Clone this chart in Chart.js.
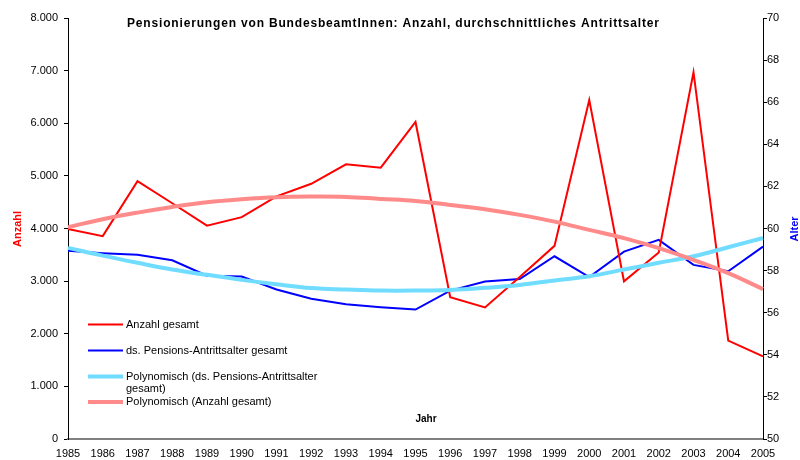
<!DOCTYPE html>
<html>
<head>
<meta charset="utf-8">
<script src="https://cdn.jsdelivr.net/npm/chart.js@4/dist/chart.umd.min.js"></script>
<style>
  html, body { margin: 0; padding: 0; background: #fff; }
  #wrap { width: 800px; height: 460px; position: relative; }
</style>
</head>
<body>
<div id="wrap"><canvas id="pensionChart"></canvas></div>
<script>
// Jahre (x-Achse)
const years = ["1985","1986","1987","1988","1989","1990","1991","1992","1993","1994","1995",
               "1996","1997","1998","1999","2000","2001","2002","2003","2004","2005"];

// Anzahl gesamt (linke Achse)
const anzahlGesamt = [3990, 3855, 4900, 4480, 4055, 4215, 4610, 4850, 5220, 5155, 6025,
                      2695, 2500, 3080, 3670, 6440, 2995, 3545, 6970, 1870, 1570];

// ds. Pensions-Antrittsalter gesamt (rechte Achse)
const antrittsalter = [58.94, 58.83, 58.75, 58.49, 57.76, 57.72, 57.10, 56.66, 56.40, 56.26, 56.15,
                       57.05, 57.48, 57.60, 58.68, 57.69, 58.90, 59.46, 58.27, 57.97, 59.14];

// Polynomische Trendlinien
const trendAnzahl = [4025, 4177, 4302, 4410, 4500, 4557, 4595, 4606, 4600, 4562, 4524,
                     4448, 4367, 4259, 4131, 3974, 3816, 3626, 3404, 3152, 2848];
const trendAlter = [59.08, 58.71, 58.37, 58.05, 57.80, 57.56, 57.35, 57.17, 57.10, 57.05, 57.05,
                    57.08, 57.18, 57.32, 57.53, 57.73, 58.05, 58.37, 58.68, 59.11, 59.55];

// Achsen
const anzahlTicks = [0, 1000, 2000, 3000, 4000, 5000, 6000, 7000, 8000];
const alterTicks = [50, 52, 54, 56, 58, 60, 62, 64, 66, 68, 70];

const FONT = "'Liberation Sans', Arial, sans-serif";

// Titel, Achsentitel und Legende direkt auf die Zeichenfläche
const overlayPlugin = {
    id: "overlay",
    afterDraw: function(chart) {
        var ctx = chart.ctx;
        ctx.save();

        // Titel
        var title = "Pensionierungen von BundesbeamtInnen: Anzahl, durchschnittliches Antrittsalter";
        ctx.font = "bold 12px " + FONT;
        var w = ctx.measureText(title).width;
        ctx.letterSpacing = Math.max(0, (532 - w) / (title.length - 1)) + "px";
        ctx.fillStyle = "#000";
        ctx.textAlign = "left";
        ctx.textBaseline = "middle";
        ctx.fillText(title, 127, 24);
        ctx.letterSpacing = "0px";

        // Anzahl (links)
        ctx.save();
        ctx.translate(18, 229);
        ctx.rotate(-Math.PI / 2);
        ctx.font = "bold 11px " + FONT;
        ctx.fillStyle = "#ff0000";
        ctx.textAlign = "center";
        ctx.fillText("Anzahl", 0, 0);
        ctx.restore();

        // Alter (rechts)
        ctx.save();
        ctx.translate(795, 229);
        ctx.rotate(-Math.PI / 2);
        ctx.font = "bold 11px " + FONT;
        ctx.fillStyle = "#0000ff";
        ctx.textAlign = "center";
        ctx.fillText("Alter", 0, 0);
        ctx.restore();

        // Jahr
        ctx.font = "bold 10px " + FONT;
        ctx.fillStyle = "#000";
        ctx.textAlign = "center";
        ctx.fillText("Jahr", 426, 419);

        // Legende
        var items = [
            { y: 324.5, color: "#ff0000", width: 2, text: ["Anzahl gesamt"] },
            { y: 350.5, color: "#0000ff", width: 2, text: ["ds. Pensions-Antrittsalter gesamt"] },
            { y: 376.5, color: "#70dcff", width: 4, text: ["Polynomisch (ds. Pensions-Antrittsalter", "gesamt)"] },
            { y: 402, color: "#ff8a8a", width: 4, text: ["Polynomisch (Anzahl gesamt)"] },
        ];
        ctx.font = "11px " + FONT;
        ctx.textAlign = "left";
        for (var i = 0; i < items.length; i++) {
            var it = items[i];
            ctx.strokeStyle = it.color;
            ctx.lineWidth = it.width;
            ctx.beginPath();
            ctx.moveTo(88, it.y);
            ctx.lineTo(123, it.y);
            ctx.stroke();
            ctx.fillStyle = "#000";
            for (var j = 0; j < it.text.length; j++) {
                ctx.fillText(it.text[j], 126, it.y + j * 12.5);
            }
        }
        ctx.restore();
    },
};

new Chart(document.getElementById("pensionChart"), {
    type: "line",
    data: {
        labels: years,
        datasets: [
            {
                label: "Polynomisch (Anzahl gesamt)",
                data: trendAnzahl,
                yAxisID: "yAnzahl",
                borderColor: "#ff8a8a",
                borderWidth: 4,
                tension: 0.4,
                order: 0,
            },
            {
                label: "Polynomisch (ds. Pensions-Antrittsalter gesamt)",
                data: trendAlter,
                yAxisID: "yAlter",
                borderColor: "#70dcff",
                borderWidth: 4,
                tension: 0.4,
                order: 1,
            },
            {
                label: "Anzahl gesamt",
                data: anzahlGesamt,
                yAxisID: "yAnzahl",
                borderColor: "#ff0000",
                borderWidth: 2,
                order: 2,
            },
            {
                label: "ds. Pensions-Antrittsalter gesamt",
                data: antrittsalter,
                yAxisID: "yAlter",
                borderColor: "#0000ff",
                borderWidth: 2,
                order: 3,
            },
        ],
    },
    options: {
        responsive: true,
        maintainAspectRatio: false,
        animation: false,
        elements: { point: { radius: 0 }, line: { borderJoinStyle: "miter" } },
        layout: { padding: { top: 18, left: 0, right: 0, bottom: 0 } },
        plugins: {
            legend: { display: false },
            title: { display: false },
            tooltip: { enabled: false },
        },
        scales: {
            x: {
                offset: false,
                grid: { display: false },
                border: { color: "#808080", width: 2 },
                ticks: {
                    autoSkip: false,
                    maxRotation: 0,
                    padding: 0,
                    color: "#000",
                    font: { family: FONT, size: 11 },
                },
                afterFit: function(s) { s.height = 21; },
            },
            yAnzahl: {
                position: "left",
                min: 0,
                max: 8000,
                afterBuildTicks: function(s) {
                    s.ticks = anzahlTicks.map(function(v) { return { value: v }; });
                },
                grid: { drawOnChartArea: false, drawTicks: true, tickLength: 4, color: "#000" },
                border: { color: "#000", width: 1 },
                ticks: {
                    padding: 6,
                    color: "#000",
                    font: { family: FONT, size: 11 },
                    callback: function(v) { return v.toLocaleString("de-DE"); },
                },
                afterFit: function(s) { s.width = 68; },
            },
            yAlter: {
                position: "right",
                min: 50,
                max: 70,
                afterBuildTicks: function(s) {
                    s.ticks = alterTicks.map(function(v) { return { value: v }; });
                },
                grid: { drawOnChartArea: false, drawTicks: true, tickLength: 4, color: "#000" },
                border: { color: "#000", width: 1 },
                ticks: {
                    padding: 0,
                    color: "#000",
                    font: { family: FONT, size: 11 },
                },
                afterFit: function(s) { s.width = 37; },
            },
        },
    },
    plugins: [overlayPlugin],
});
</script>
</body>
</html>
